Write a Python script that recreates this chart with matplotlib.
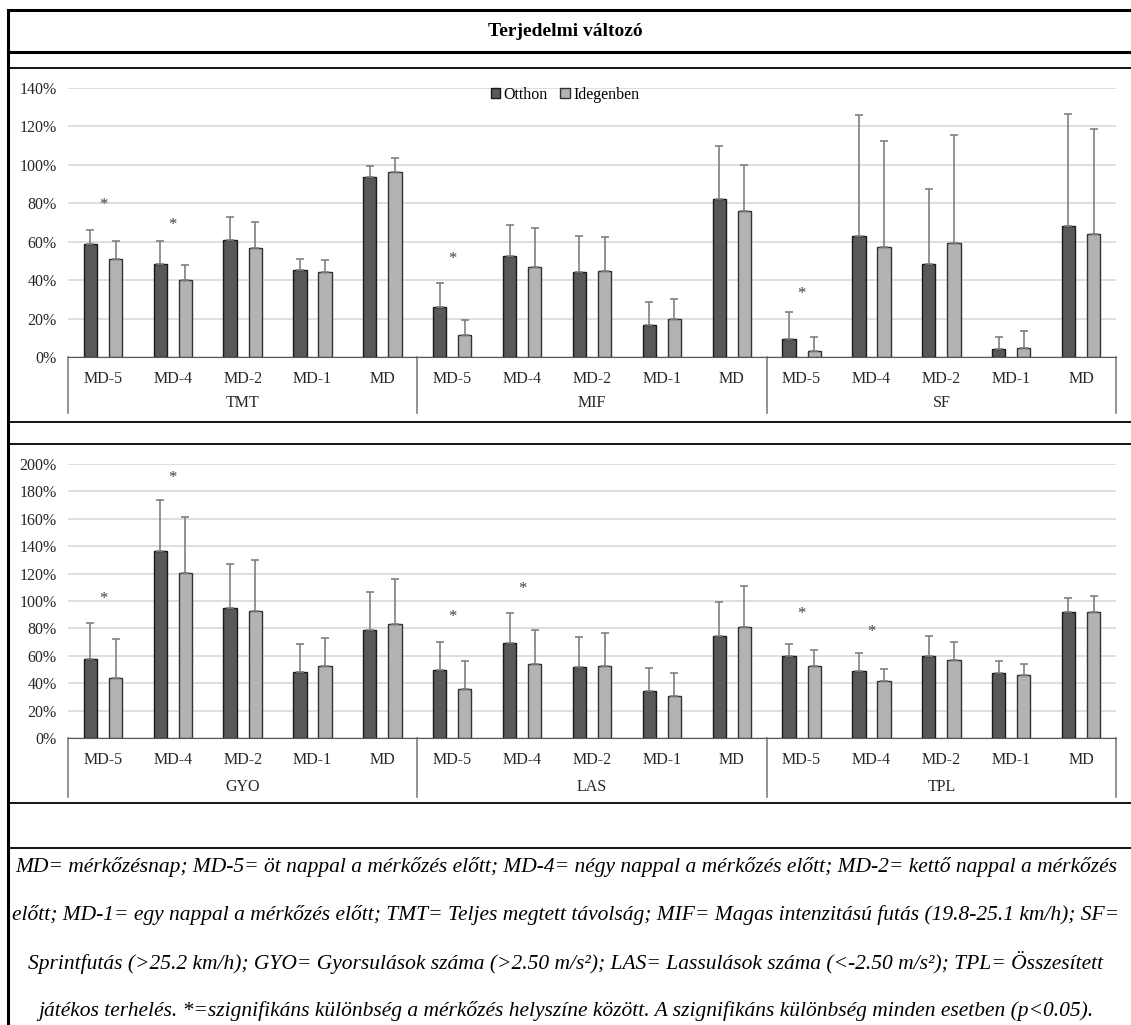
import numpy as np
import matplotlib
matplotlib.use('Agg')
import matplotlib.pyplot as plt
from matplotlib.lines import Line2D

plt.rcParams['font.family'] = ['Liberation Serif', 'DejaVu Serif']

W, H = 1131, 1025

days = ['MD-5', 'MD-4', 'MD-2', 'MD-1', 'MD']
groups_top = ['TMT', 'MIF', 'SF']
groups_bottom = ['GYO', 'LAS', 'TPL']
series = ['Otthon', 'Idegenben']

# means (%) and upward SD, 15 bars per panel (5 days x 3 variables)
top_home = [58.9, 48.3, 60.7, 45.3, 93.6, 26.2, 52.5, 44.3, 16.9, 82.3, 9.6, 63.1, 48.6, 4.0, 68.3]
top_home_sd = [7.2, 12.2, 12.2, 5.6, 5.8, 12.3, 16.0, 18.5, 11.9, 27.4, 13.6, 63.1, 38.7, 6.5, 58.4]
top_away = [51.1, 39.9, 56.8, 44.3, 96.1, 11.3, 46.9, 44.8, 19.7, 76.2, 3.0, 57.4, 59.1, 4.7, 64.2]
top_away_sd = [9.2, 8.0, 13.3, 6.1, 7.6, 7.9, 20.0, 17.8, 10.5, 23.7, 7.5, 54.9, 56.5, 8.9, 54.5]

bot_home = [57.8, 136.6, 94.6, 48.5, 78.5, 49.5, 69.0, 51.7, 34.6, 74.4, 59.5, 49.0, 60.0, 47.8, 92.2]
bot_home_sd = [26.3, 36.8, 32.5, 20.3, 28.1, 20.5, 22.2, 21.7, 16.6, 25.1, 9.3, 12.7, 14.1, 8.3, 10.0]
bot_away = [44.1, 120.2, 92.4, 52.7, 82.9, 36.1, 53.9, 52.7, 30.5, 81.0, 52.9, 41.7, 56.6, 46.1, 92.2]
bot_away_sd = [28.3, 41.0, 37.6, 20.2, 33.0, 20.2, 24.6, 24.1, 16.6, 30.2, 11.5, 8.8, 13.6, 8.0, 11.5]

# significance stars: category index and height in %
top_star_idx = [0, 1, 5, 10]
top_star_y = [79.3, 68.9, 51.1, 32.6]
bot_star_idx = [0, 1, 5, 6, 10, 11]
bot_star_y = [101.2, 189.5, 88.5, 108.8, 90.2, 77.3]

caption = [
    "MD= mérkőzésnap; MD-5= öt nappal a mérkőzés előtt; MD-4= négy nappal a mérkőzés előtt; MD-2= kettő nappal a mérkőzés",
    "előtt; MD-1= egy nappal a mérkőzés előtt; TMT= Teljes megtett távolság; MIF= Magas intenzitású futás (19.8-25.1 km/h); SF=",
    "Sprintfutás (>25.2 km/h); GYO= Gyorsulások száma (>2.50 m/s²); LAS= Lassulások száma (<-2.50 m/s²); TPL= Összesített",
    "játékos terhelés. *=szignifikáns különbség a mérkőzés helyszíne között. A szignifikáns különbség minden esetben (p<0.05).",
]

fig = plt.figure(figsize=(W / 100, H / 100), dpi=100)


def fx(x):
    return x / W


def fy(y):
    return 1 - y / H


def hline(y, x0, x1, lw):
    fig.add_artist(Line2D([fx(x0), fx(x1)], [fy(y), fy(y)], color='black', lw=lw,
                          transform=fig.transFigure))


def panel(ytop, y0, ymax, home, home_sd, away, away_sd, star_idx, star_y, groups, legend):
    ax = fig.add_axes([fx(68), fy(y0), fx(1116) - fx(68), (y0 - ytop) / H])
    x = np.arange(15)
    w = 0.19
    off = 0.18
    ax.bar(x - off, home, w, color='#595959', edgecolor='#1a1a1a', lw=1, label=series[0], zorder=3)
    ax.bar(x + off, away, w, color='#b3b3b3', edgecolor='#333333', lw=1, label=series[1], zorder=3)
    ax.errorbar(x - off, home, yerr=[np.zeros(15), home_sd], fmt='none', ecolor='#808080',
                elinewidth=1.2, capsize=3, capthick=1.2, zorder=4)
    ax.errorbar(x + off, away, yerr=[np.zeros(15), away_sd], fmt='none', ecolor='#808080',
                elinewidth=1.2, capsize=3, capthick=1.2, zorder=4)
    for i, s in zip(star_idx, star_y):
        ax.text(i, s, '*', ha='center', va='center', fontsize=12, color='#404040')
    ax.set_xlim(-0.5, 14.5)
    ax.set_ylim(0, ymax)
    ax.set_yticks(np.arange(0, ymax + 1, 20))
    ax.set_yticklabels([f'{v}%' for v in range(0, ymax + 1, 20)])
    ax.grid(axis='y', color='#d9d9d9', lw=1.2, zorder=0)
    for s in ['top', 'right', 'left']:
        ax.spines[s].set_visible(False)
    ax.spines['bottom'].set_color('#595959')
    ax.spines['bottom'].set_zorder(5)
    ax.tick_params(axis='y', length=0, labelsize=11.5, pad=8, labelcolor='#262626')
    ax.set_xticks(x)
    ax.set_xticklabels(days * 3)
    ax.tick_params(axis='x', length=0, labelsize=11.5, pad=10, labelcolor='#262626')
    # multi-level category axis: group separators and group names
    h = y0 - ytop
    tr = ax.get_xaxis_transform()
    sep_bottom = -(56 if ymax == 140 else 59) / h
    for b in [-0.5, 4.5, 9.5, 14.5]:
        ax.plot([b, b], [0, sep_bottom], color='#808080', lw=1.2, transform=tr, clip_on=False)
    glab_y = -(46 if ymax == 140 else 49) / h
    for k, g in enumerate(groups):
        ax.text(5 * k + 2, glab_y, g, ha='center', va='center', fontsize=11.5,
                color='#262626', transform=tr)
    if legend:
        ax.legend(loc='center', bbox_to_anchor=(fx(565), fy(95)), bbox_transform=fig.transFigure,
                  ncol=2, frameon=False, fontsize=11.5, handlelength=0.6, handleheight=0.6,
                  handletextpad=0.2, columnspacing=0.8)
    return ax


panel(88, 357, 140, top_home, top_home_sd, top_away, top_away_sd,
      top_star_idx, top_star_y, groups_top, True)
panel(464, 738, 200, bot_home, bot_home_sd, bot_away, bot_away_sd,
      bot_star_idx, bot_star_y, groups_bottom, False)

# table frame
fig.add_artist(Line2D([fx(8), fx(8)], [fy(10), fy(H)], color='black', lw=2.2,
                      transform=fig.transFigure))
hline(10, 8, W, 2.2)
hline(52, 8, W, 2.2)
hline(68, 8, W, 1.3)
hline(422, 8, W, 1.3)
hline(444, 8, W, 1.3)
hline(803, 8, W, 1.3)
hline(848, 8, W, 1.3)

fig.text(fx(565), fy(31), 'Terjedelmi változó', ha='center', va='center',
         fontsize=14, fontweight='bold')

# caption, sized so the first line fills the row
fig.canvas.draw()
r = fig.canvas.get_renderer()
t = fig.text(0, 0, caption[0], fontsize=14, style='italic')
wpx = t.get_window_extent(r).width
t.remove()
fs = 14 * 1105 / wpx
for i, line in enumerate(caption):
    fig.text(fx(566), fy(867 + 48 * i), line, ha='center', va='center',
             fontsize=fs, style='italic')

fig.savefig('out.png', dpi=100)
